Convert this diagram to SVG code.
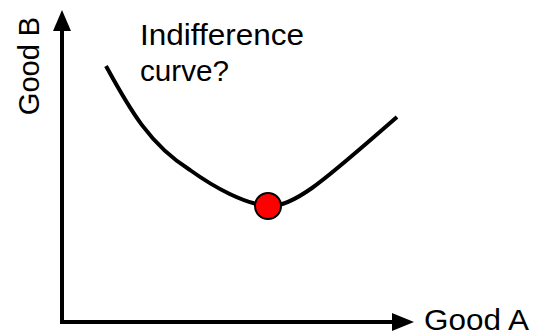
<svg xmlns="http://www.w3.org/2000/svg" width="535" height="333" viewBox="0 0 535 333">
<style>
.t{font-family:"Liberation Sans",Arial,sans-serif;font-size:29px;fill:#000}
.ax{stroke:#000;stroke-width:4;fill:none}
</style>
<rect width="535" height="333" fill="#fff"/>
<g id="connectors">
<path class="ax" d="M62,322 V28"/>
<polygon points="62,10 53,31 71,31" fill="#000"/>
<path class="ax" d="M60,322 H395"/>
<polygon points="414,322 392,313 392,331" fill="#000"/>
</g>
<g id="curve">
<path d="M106,66 C130,110 150,145 190,170 C215,188 245,204 268,206 C295,208 330,175 397,117" fill="none" stroke="#000" stroke-width="4"/>
</g>
<g id="point">
<circle cx="268" cy="206" r="13" fill="#f00" stroke="#000" stroke-width="2"/>
</g>
<g id="labels">
<text class="t" x="140" y="45" textLength="164" lengthAdjust="spacingAndGlyphs">Indifference</text>
<text class="t" x="140" y="81" textLength="89" lengthAdjust="spacingAndGlyphs">curve?</text>
<text class="t" x="424" y="330" textLength="105" lengthAdjust="spacingAndGlyphs">Good A</text>
<text class="t" transform="translate(39,66) rotate(-90)" text-anchor="middle">Good B</text>
</g>
</svg>
